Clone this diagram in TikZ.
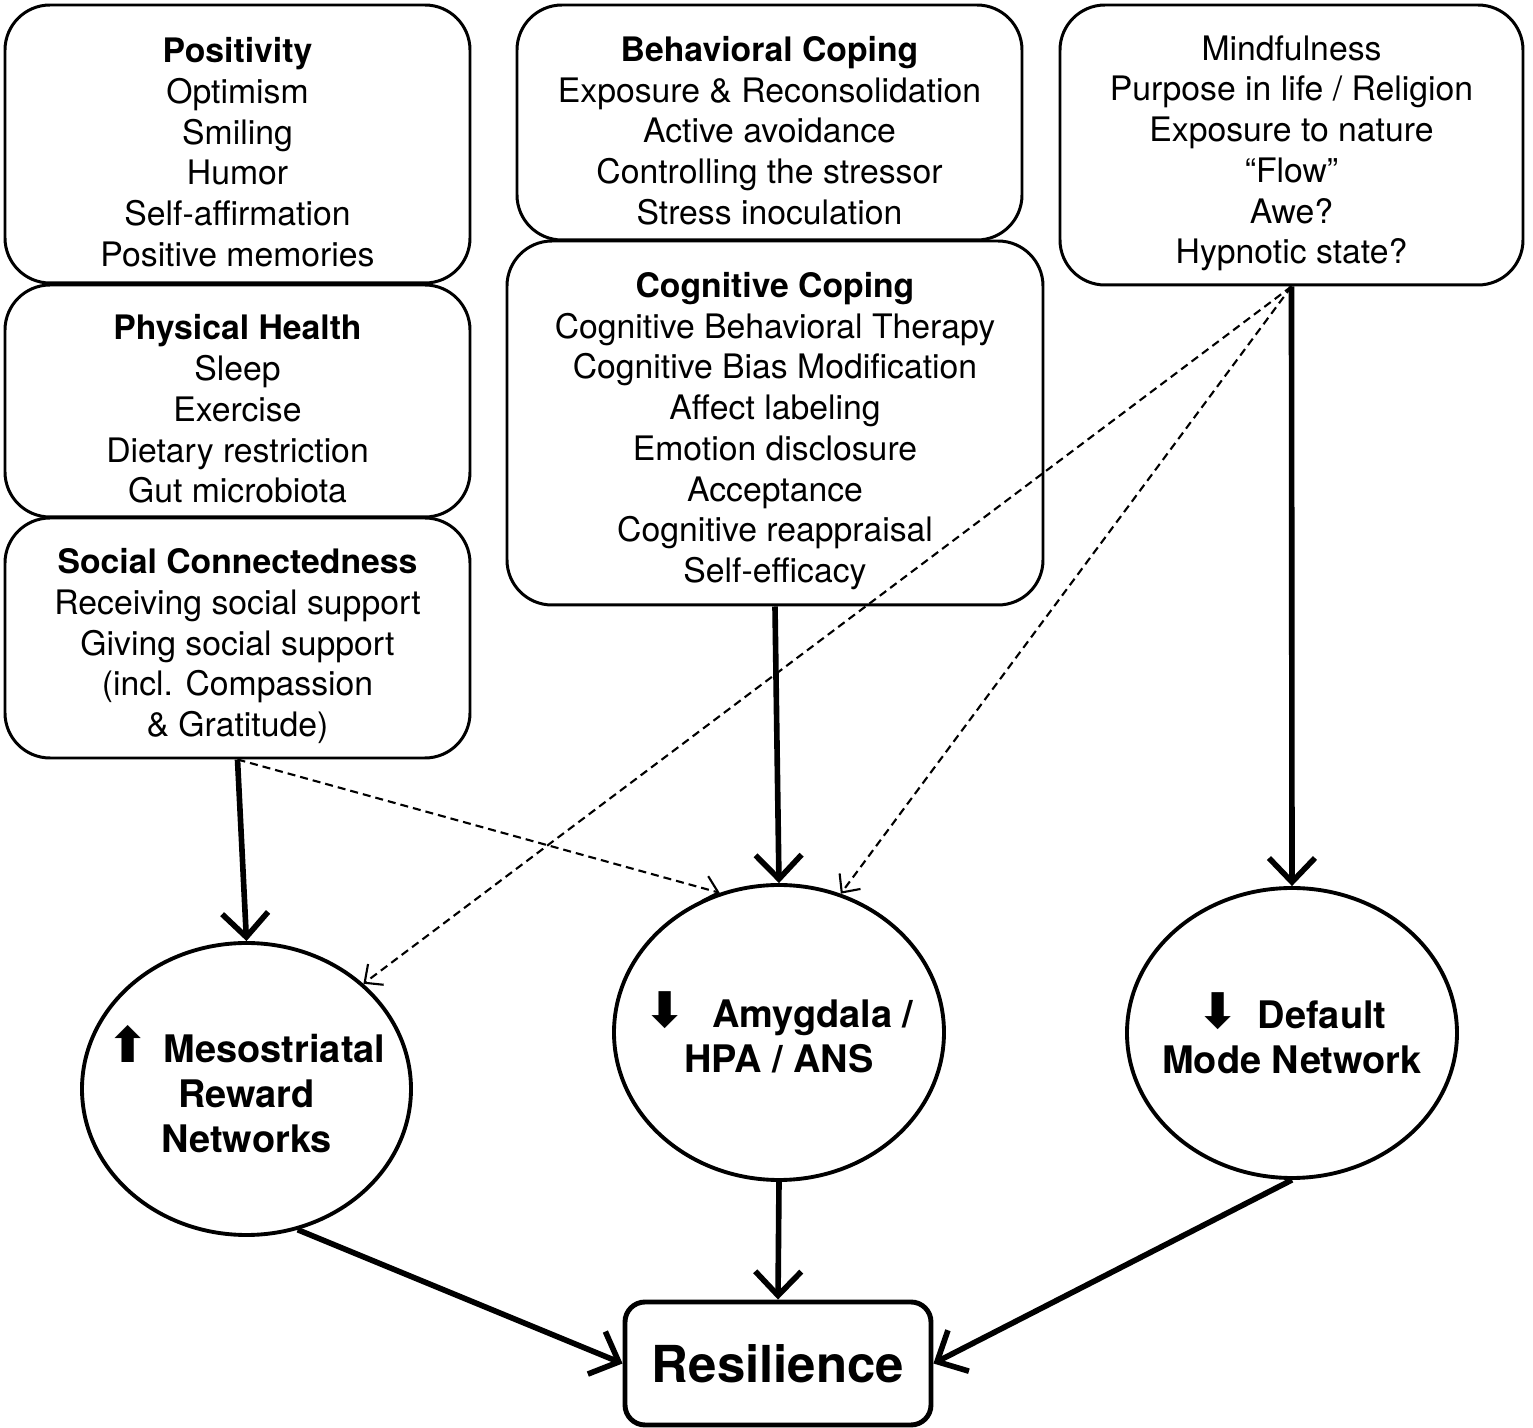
\documentclass[tikz,border=0pt]{standalone}
\usepackage{fontspec}
\setmainfont{TeX Gyre Heros}
\newfontfamily\simbolos{DejaVu Sans}
\usetikzlibrary{arrows.meta,shapes.geometric}
\tikzset{
  caja/.style={draw=black,rounded corners=4.5mm,line width=0.85pt,align=center,inner sep=0pt,font=\fontsize{9.6}{11.6}\selectfont},
  ovalo/.style={ellipse,draw=black,line width=1.1pt,align=center,inner ysep=0pt,font=\bfseries\fontsize{10.8}{12.8}\selectfont},
  final/.style={draw=black,rounded corners=2mm,line width=1.4pt,inner sep=0pt,font=\bfseries\fontsize{14.5}{16}\selectfont},
  flecha/.style={draw=black,line width=1.6pt,-{Straight Barb[length=2.4mm,width=4.6mm]}},
  punteada/.style={draw=black,line width=0.6pt,dash pattern=on 0.8mm off 0.5mm,-{Straight Barb[length=1.4mm,width=2.6mm]}},
}
\newcommand{\sube}{{\simbolos\bfseries\fontsize{14}{14}\selectfont ⬆}}
\newcommand{\baja}{{\simbolos\bfseries\fontsize{14}{14}\selectfont ⬇}}
\newcommand{\alza}{\rule{0pt}{11.8pt}}

\begin{document}
\begin{tikzpicture}[x=0.1mm,y=-0.1mm]
\useasboundingbox (0,0) rectangle (1533,1428);
% factores
\node[caja,minimum width=46.5mm,minimum height=27.8mm] (posit) at (237.5,144)
  {\alza\textbf{Positivity}\\Optimism\\Smiling\\Humor\\Self-affirmation\\Positive memories};
\node[caja,minimum width=46.5mm,minimum height=23.2mm] (fisica) at (237.5,401)
  {\alza\textbf{Physical Health}\\Sleep\\Exercise\\Dietary restriction\\Gut microbiota};
\node[caja,minimum width=46.5mm,minimum height=24mm] (social) at (237.5,638)
  {\alza\textbf{Social Connectedness}\\Receiving social support\\Giving social support\\(incl. Compassion\\\& Gratitude)};
\node[caja,minimum width=50.5mm,minimum height=23.5mm] (conducta) at (769.5,122.5)
  {\alza\textbf{Behavioral Coping}\\Exposure \& Reconsolidation\\Active avoidance\\Controlling the stressor\\Stress inoculation};
\node[caja,minimum width=53.6mm,minimum height=36.4mm] (cognit) at (775,423)
  {\alza\textbf{Cognitive Coping}\\Cognitive Behavioral Therapy\\Cognitive Bias Modification\\Affect labeling\\Emotion disclosure\\Acceptance\\Cognitive reappraisal\\Self-efficacy};
\node[caja,minimum width=46.3mm,minimum height=28mm] (mind) at (1291.5,145)
  {\alza Mindfulness\\Purpose in life / Religion\\Exposure to nature\\“Flow”\\Awe?\\Hypnotic state?};
% sistemas
\node[ovalo,inner xsep=-2.4mm,minimum width=32.9mm,minimum height=29.2mm] (meso) at (246.5,1089)
  {\sube\hspace{0.4em}Mesostriatal\\Reward\\Networks};
\node[ovalo,inner xsep=-1.9mm,minimum width=33mm,minimum height=29.5mm] (amig) at (779,1032.5)
  {\baja\hspace{0.7em}Amygdala /\\HPA / ANS};
\node[ovalo,inner xsep=-1.35mm,minimum width=33mm,minimum height=29mm] (dmn) at (1292,1033)
  {\baja\hspace{0.5em}Default\\Mode Network};
\node[final,minimum width=30.6mm,minimum height=12.3mm] (resil) at (778,1363.5) {Resilience};
% conexiones
\draw[flecha] (social.south) -- (meso.north);
\draw[punteada] (social.south) -- (amig.113);
\draw[flecha] (cognit.south) -- (amig.north);
\draw[punteada] (mind.south) -- (meso.42);
\draw[punteada] (mind.south) -- (amig.66);
\draw[flecha] (mind.south) -- (dmn.north);
\draw[flecha] (meso.290) -- (resil.west);
\draw[flecha] (amig.south) -- (resil.north);
\draw[flecha] (dmn.south) -- (resil.east);
\end{tikzpicture}
\end{document}
